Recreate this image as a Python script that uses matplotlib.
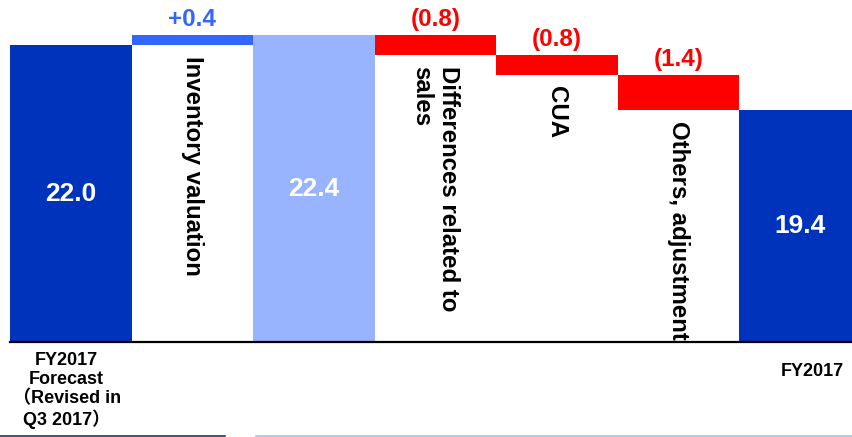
import matplotlib.pyplot as plt
from matplotlib.lines import Line2D

plt.rcParams['font.family'] = ['Liberation Sans', 'Noto Sans CJK JP']
plt.rcParams['font.weight'] = 'bold'

# waterfall data (billions)
categories = ["FY2017\nForecast\n（Revised in\nQ3 2017）", "Inventory valuation", "",
              "Differences related to\nsales", "CUA", "Others, adjustment", "FY2017"]
kinds = ["total", "delta", "total", "delta", "delta", "delta", "total"]
values = [22.0, 0.4, 22.4, -0.8, -0.8, -1.4, 19.4]
value_labels = ["22.0", "+0.4", "22.4", "(0.8)", "(0.8)", "(1.4)", "19.4"]

bar_colors = ["#0033BB", "#3366FF", "#99B4FF", "#FF0000", "#FF0000", "#FF0000", "#0033BB"]
label_colors = ["white", "#3366FF", "white", "#FF0000", "#FF0000", "#FF0000", "white"]

fig = plt.figure(figsize=(8.52, 4.37), dpi=100)
ax = fig.add_axes([10 / 852, 95 / 437, 842 / 852, 342 / 437])
ymin, ymax = 10.12, 23.8
ax.set_ylim(ymin, ymax)
ax.set_xlim(-0.5, 6.43)

running = 0
for i, (kind, v) in enumerate(zip(kinds, values)):
    if kind == "total":
        bottom, height = 0, v
        running = v
    else:
        bottom = running if v > 0 else running + v
        height = abs(v)
        running += v
    ax.bar(i, height, bottom=bottom, width=1.0, color=bar_colors[i], linewidth=0)

    if kind == "total":
        ax.text(i, (ymin + v) / 2, value_labels[i], color=label_colors[i],
                ha='center', va='center', fontsize=19, fontweight='bold')
    else:
        ax.annotate(value_labels[i], (i, bottom + height), xytext=(0, 11.5),
                    textcoords='offset points', ha='center', va='center',
                    color=label_colors[i], fontsize=17.5, fontweight='bold')
        ax.annotate(categories[i], (i, bottom), xytext=(0, -8),
                    textcoords='offset points', ha='center', va='top',
                    rotation=-90, multialignment='left', color='black',
                    fontsize=17.3, fontweight='bold')

# labels of the total bars sit under the axis
ax.annotate(categories[0], (0, 0), xycoords=('data', 'axes fraction'),
            xytext=(-3, -7), textcoords='offset points', ha='center', va='top',
            fontsize=13, fontweight='bold', linespacing=1.15)
ax.annotate(categories[6], (6, 0), xycoords=('data', 'axes fraction'),
            xytext=(9, -15), textcoords='offset points', ha='center', va='top',
            fontsize=13, fontweight='bold')

for s in ['top', 'right', 'left']:
    ax.spines[s].set_visible(False)
ax.spines['bottom'].set_linewidth(1.6)
ax.spines['bottom'].set_color('black')
ax.set_xticks([])
ax.set_yticks([])
ax.patch.set_alpha(0)

# slide footer lines
fig.add_artist(Line2D([0, 225 / 852], [1.2 / 437, 1.2 / 437], color='#1F3864', lw=1.2))
fig.add_artist(Line2D([256 / 852, 1], [1.2 / 437, 1.2 / 437], color='#9DC3E6', lw=1.2))

fig.savefig('out.png', dpi=100)
